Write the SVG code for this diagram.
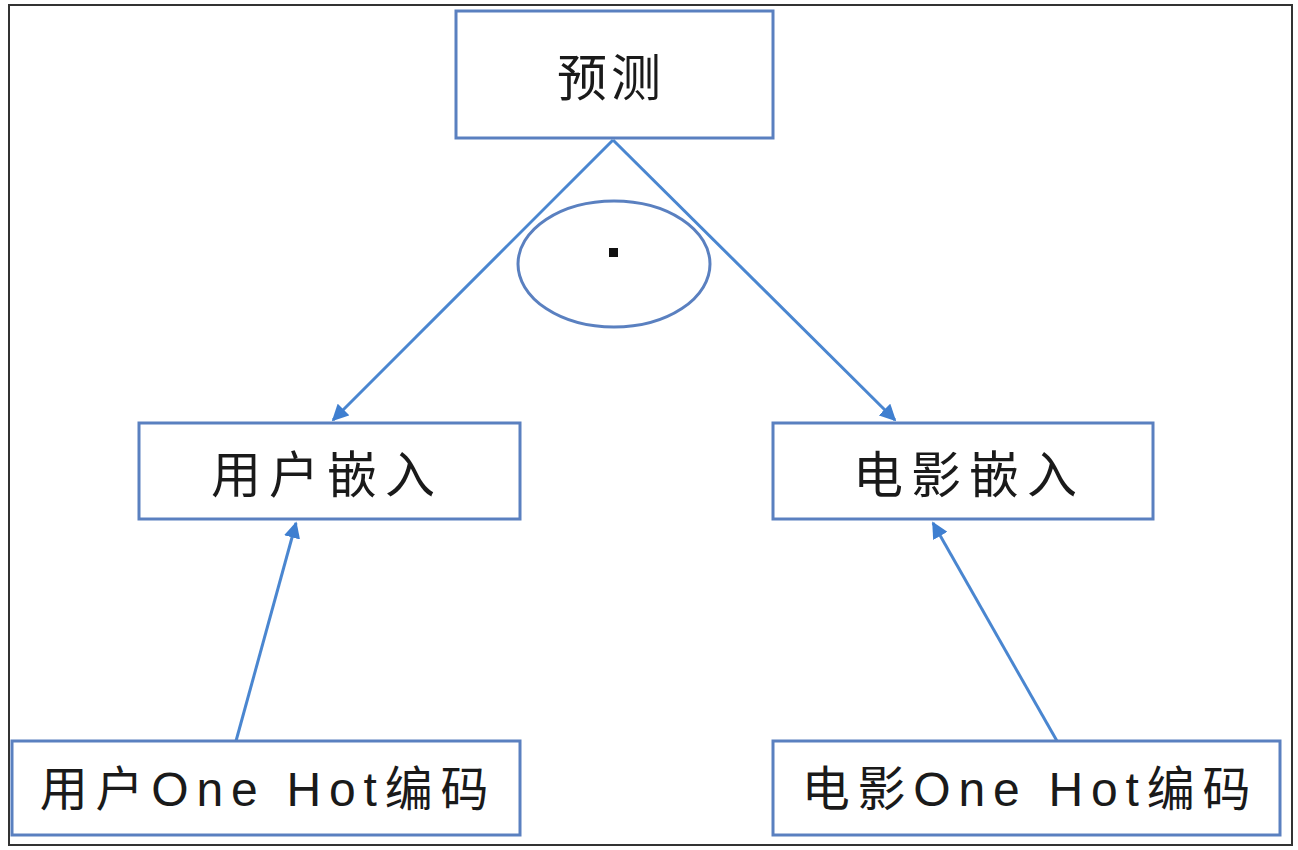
<svg xmlns="http://www.w3.org/2000/svg" width="1298" height="850" viewBox="0 0 1298 850">
<style>
.box{fill:#fff;stroke:#5a80c0;stroke-width:3}
.t{font-family:"Liberation Sans","Noto Sans CJK SC",sans-serif;fill:#1a1a1a;text-anchor:middle}
.c{stroke:#4a86d0;stroke-width:3;fill:none;marker-end:url(#ah)}
</style>
<defs>
<marker id="ah" viewBox="0 0 10 10" refX="9" refY="5" markerWidth="5.5" markerHeight="5.5" orient="auto" markerUnits="strokeWidth">
<path d="M0,0 L10,5 L0,10 z" fill="#3f7fd0"/>
</marker>
</defs>
<rect x="0" y="0" width="1298" height="850" fill="#fff"/>
<rect x="9" y="5" width="1283" height="840" fill="none" stroke="#333" stroke-width="2"/>
<g id="connectors">
<line class="c" x1="613" y1="140" x2="333" y2="420"/>
<line class="c" x1="613" y1="140" x2="895" y2="420"/>
<line class="c" x1="236" y1="741" x2="296" y2="523"/>
<line class="c" x1="1057" y1="741" x2="933" y2="523"/>
</g>
<g id="op">
<ellipse cx="614" cy="264" rx="96" ry="63" fill="none" stroke="#5a80c0" stroke-width="3"/>
<rect x="609" y="248" width="9" height="9" fill="#111"/>
</g>
<g id="predict">
<rect class="box" x="456" y="11" width="317" height="127"/>
<text class="t" x="611" y="96" font-size="50" letter-spacing="4">预测</text>
</g>
<g id="user-embed">
<rect class="box" x="139" y="423" width="381" height="96"/>
<text class="t" x="327" y="493" font-size="50" letter-spacing="8">用户嵌入</text>
</g>
<g id="movie-embed">
<rect class="box" x="773" y="423" width="380" height="96"/>
<text class="t" x="969" y="493" font-size="50" letter-spacing="8">电影嵌入</text>
</g>
<g id="user-onehot">
<rect class="box" x="12" y="741" width="508" height="94"/>
<text class="t" x="268" y="806" font-size="48" letter-spacing="7.8">用户One Hot编码</text>
</g>
<g id="movie-onehot">
<rect class="box" x="773" y="741" width="507" height="94"/>
<text class="t" x="1030" y="806" font-size="48" letter-spacing="7.8">电影One Hot编码</text>
</g>
</svg>
